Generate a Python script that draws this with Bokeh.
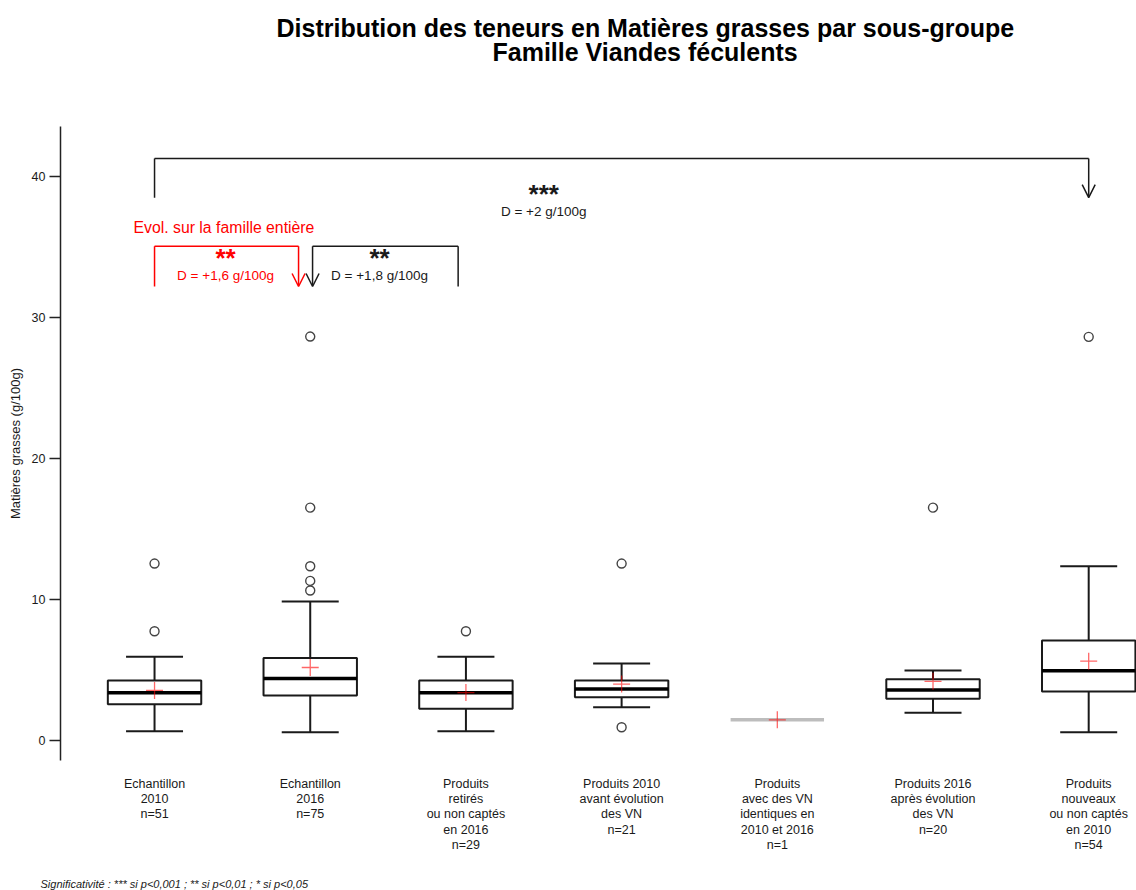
from bokeh.plotting import figure
from bokeh.models import ColumnDataSource, FixedTicker, Range1d, Arrow, OpenHead, Title
from bokeh.core.properties import value
from bokeh.embed import file_html
from bokeh.resources import INLINE

# ---------------- data ----------------
positions = [1, 2, 3, 4, 5, 6, 7]
group_labels = [
    "Echantillon\n2010\nn=51",
    "Echantillon\n2016\nn=75",
    "Produits\nretirés\nou non captés\nen 2016\nn=29",
    "Produits 2010\navant évolution\ndes VN\nn=21",
    "Produits\navec des VN\nidentiques en\n2010 et 2016\nn=1",
    "Produits 2016\naprès évolution\ndes VN\nn=20",
    "Produits\nnouveaux\nou non captés\nen 2010\nn=54",
]
n_obs = [51, 75, 29, 21, 1, 20, 54]
whisker_low = [0.66, 0.59, 0.66, 2.36, 1.47, 1.96, 0.59]
q1 = [2.58, 3.19, 2.25, 3.07, 1.47, 2.96, 3.47]
medians = [3.38, 4.40, 3.38, 3.66, 1.47, 3.59, 4.94]
q3 = [4.26, 5.86, 4.26, 4.26, 1.47, 4.35, 7.09]
whisker_high = [5.94, 9.86, 5.94, 5.46, 1.47, 4.96, 12.36]
means = [3.55, 5.18, 3.40, 4.00, 1.47, 4.20, 5.63]
outlier_pos = [1, 1, 2, 2, 2, 2, 2, 3, 4, 4, 6, 7]
outlier_val = [7.75, 12.55, 10.64, 11.32, 12.36, 16.52, 28.65, 7.75, 12.55, 0.94, 16.52, 28.63]
y_ticks = [0, 10, 20, 30, 40]

# comparisons (brackets)
cmp_x0 = [1.0, 1.0, 2.015]
cmp_x1 = [7.0, 1.925, 2.95]
cmp_top = [41.28, 35.06, 35.06]
cmp_bot = [38.5, 32.2, 32.2]
cmp_arrow_side = ["right", "right", "left"]
cmp_color = ["#1a1a1a", "#ff0000", "#1a1a1a"]
cmp_stars = ["***", "**", "**"]
cmp_diff = ["D = +2 g/100g", "D = +1,6 g/100g", "D = +1,8 g/100g"]
cmp_text_x = [3.5, 1.456, 2.445]
cmp_star_y = [38.75, 34.2, 34.2]
cmp_diff_y = [37.52, 32.98, 32.98]
family_note = "Evol. sur la famille entière"
family_note_x = 0.865
family_note_y = 36.38

title_1 = "Distribution des teneurs en Matières grasses par sous-groupe"
title_2 = "Famille Viandes féculents"
y_label = "Matières grasses (g/100g)"
footnote = "Significativité : *** si p<0,001 ; ** si p<0,01 ; * si p<0,05"

FONT = "Liberation Sans"
BOX_W = 0.6
CAP_W = 0.366

# ---------------- figure ----------------
p = figure(width=1136, height=890,
           x_range=Range1d(0.396, 7.307), y_range=Range1d(-1.418, 43.55),
           output_backend="svg", toolbar_location=None,
           min_border_left=60, min_border_right=0,
           min_border_top=126, min_border_bottom=130,
           outline_line_color=None, background_fill_color="white",
           border_fill_color="white")
p.grid.visible = False

# y axis
yax = p.yaxis[0]
yax.ticker = FixedTicker(ticks=y_ticks)
yax.axis_label = y_label
yax.axis_label_text_font = FONT
yax.axis_label_text_font_style = "normal"
yax.axis_label_text_font_size = "13px"
yax.axis_label_text_color = "#1a1a1a"
yax.axis_label_standoff = 6
yax.major_label_text_font = FONT
yax.major_label_text_font_size = "12.5px"
yax.major_label_text_color = "#1a1a1a"
yax.major_label_standoff = 4
yax.major_tick_out = 11
yax.major_tick_in = 0
yax.minor_tick_line_color = None
yax.axis_line_color = "#222222"
yax.axis_line_width = 1.5
yax.major_tick_line_color = "#222222"
yax.major_tick_line_width = 1.5

# x axis (category labels only)
xax = p.xaxis[0]
xax.ticker = FixedTicker(ticks=positions)
xax.major_label_overrides = {pos: lab for pos, lab in zip(positions, group_labels)}
xax.axis_line_color = None
xax.major_tick_line_color = None
xax.minor_tick_line_color = None
xax.major_label_text_font = FONT
xax.major_label_text_font_size = "12.5px"
xax.major_label_text_color = "#1a1a1a"
xax.major_label_text_line_height = 1.1
xax.major_label_standoff = 10

# ---------------- boxes ----------------
multi = [i for i, n in enumerate(n_obs) if n > 1]
single = [i for i, n in enumerate(n_obs) if n == 1]

box_src = ColumnDataSource(dict(
    x=[positions[i] for i in multi],
    q1=[q1[i] for i in multi],
    q3=[q3[i] for i in multi],
    med=[medians[i] for i in multi],
    lo=[whisker_low[i] for i in multi],
    hi=[whisker_high[i] for i in multi],
    x0=[positions[i] - BOX_W / 2 for i in multi],
    x1=[positions[i] + BOX_W / 2 for i in multi],
    c0=[positions[i] - CAP_W / 2 for i in multi],
    c1=[positions[i] + CAP_W / 2 for i in multi],
))
single_src = ColumnDataSource(dict(
    x0=[positions[i] - BOX_W / 2 for i in single],
    x1=[positions[i] + BOX_W / 2 for i in single],
    y=[medians[i] for i in single],
))

LC = "#1a1a1a"
p.segment("x0", "y", "x1", "y", source=single_src, line_color="#bdbdbd", line_width=3.5)
# whiskers
p.segment("x", "q3", "x", "hi", source=box_src, line_color=LC, line_width=2)
p.segment("x", "q1", "x", "lo", source=box_src, line_color=LC, line_width=2)
p.segment("c0", "hi", "c1", "hi", source=box_src, line_color=LC, line_width=2)
p.segment("c0", "lo", "c1", "lo", source=box_src, line_color=LC, line_width=2)
# box
p.vbar(x="x", width=BOX_W, bottom="q1", top="q3", source=box_src,
       fill_color="white", line_color=LC, line_width=2)
p.segment("x0", "med", "x1", "med", source=box_src, line_color="black", line_width=3.5)

# outliers
p.scatter(outlier_pos, outlier_val, marker="circle", size=9, fill_color=None,
          line_color="#444444", line_width=1.4)
# means
p.scatter(positions, means, marker="cross", size=17, line_color="#ff0000",
          line_alpha=0.6, line_width=1.3)

# ---------------- comparison brackets ----------------
for x0, x1, yt, yb, side, col in zip(cmp_x0, cmp_x1, cmp_top, cmp_bot, cmp_arrow_side, cmp_color):
    plain_x = x0 if side == "right" else x1
    arrow_x = x1 if side == "right" else x0
    p.line([plain_x, plain_x], [yb, yt], line_color=col, line_width=1.5)
    p.line([x0, x1], [yt, yt], line_color=col, line_width=1.5)
    p.add_layout(Arrow(end=OpenHead(size=13, line_color=col, line_width=1.5),
                       x_start=arrow_x, y_start=yt, x_end=arrow_x, y_end=yb,
                       line_color=col, line_width=1.5))

txt_src = ColumnDataSource(dict(x=cmp_text_x, ys=cmp_star_y, yd=cmp_diff_y,
                                stars=cmp_stars, diff=cmp_diff, col=cmp_color))
p.text(x="x", y="ys", text="stars", source=txt_src, text_color="col",
       text_font=value(FONT), text_font_style="bold", text_font_size="26px",
       text_align="center", text_baseline="middle")
p.text(x="x", y="yd", text="diff", source=txt_src, text_color="col",
       text_font=value(FONT), text_font_size="13.5px",
       text_align="center", text_baseline="middle")
p.text(x=[family_note_x], y=[family_note_y], text=[family_note], text_color="#ff0000",
       text_font=value(FONT), text_font_size="15.8px",
       text_align="left", text_baseline="middle")

# ---------------- titles & footnote (panels) ----------------
spacer = Title(text=" ", text_font_size="10px", standoff=50, vertical_align="middle")
p.add_layout(spacer, "above")
p.add_layout(Title(text=title_2, align="left", offset=432, vertical_align="middle",
                   text_font=FONT, text_font_style="bold", text_font_size="25px",
                   text_color="black", standoff=-6), "above")
p.add_layout(Title(text=title_1, align="left", offset=216, vertical_align="middle",
                   text_font=FONT, text_font_style="bold", text_font_size="25px",
                   text_color="black", standoff=-6), "above")
p.add_layout(Title(text="\u00a0\n\u00a0\n" + footnote, align="left", offset=-20,
                   vertical_align="middle", text_line_height=1.2,
                   text_font=FONT, text_font_style="italic", text_font_size="11px",
                   text_color="#1a1a1a", standoff=-15), "below")

open("out.html", "w").write(file_html(p, INLINE))
